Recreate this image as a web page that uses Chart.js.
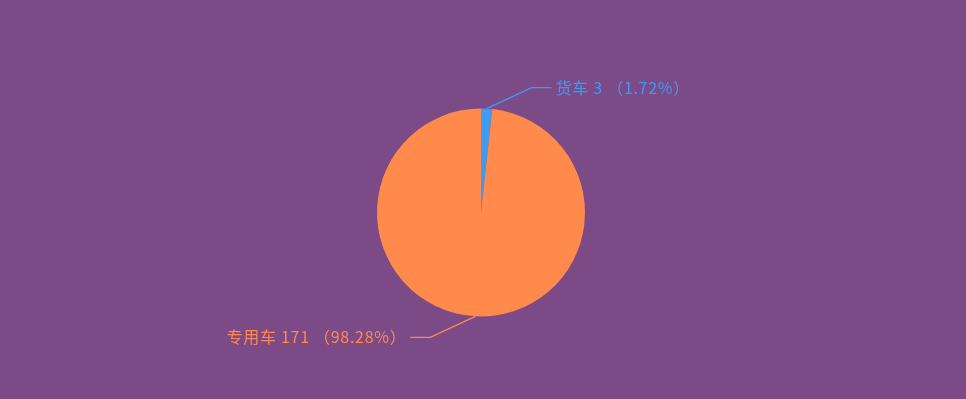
<!DOCTYPE html>
<html>
<head>
<meta charset="utf-8">
<script src="https://cdn.jsdelivr.net/npm/chart.js@4/dist/chart.umd.min.js"></script>
<style>
  html, body { margin: 0; padding: 0; background: #7b4a87; }
  #wrap { width: 966px; height: 399px; }
</style>
</head>
<body>
<div id="wrap"><canvas id="myChart" width="966" height="399"></canvas></div>
<script>
// chart data
const labels = ['货车', '专用车'];
const values = [3, 171];
const colors = ['#3d9bf2', '#ff8a4b'];

// draws the leader lines and labels next to each slice
const pieLabels = {
  id: 'pieLabels',
  afterDatasetsDraw(chart) {
    const ctx = chart.ctx;
    const meta = chart.getDatasetMeta(0);
    const total = values.reduce((a, b) => a + b, 0);
    meta.data.forEach((arc, i) => {
      const mid = (arc.startAngle + arc.endAngle) / 2;
      const r = arc.outerRadius;
      const sx = Math.cos(mid) >= 0 ? 1 : -1;
      const sy = Math.sin(mid) >= 0 ? 1 : -1;
      const x0 = arc.x + Math.cos(mid) * r;
      const y0 = arc.y + Math.sin(mid) * r;
      const x1 = x0 + sx * 45;
      const y1 = y0 + sy * 21;
      const x2 = x1 + sx * 20;

      ctx.save();
      ctx.strokeStyle = colors[i];
      ctx.lineWidth = 1.3;
      ctx.beginPath();
      ctx.moveTo(x0, y0);
      ctx.lineTo(x1, y1);
      ctx.lineTo(x2, y1);
      ctx.stroke();

      const pct = (values[i] / total * 100).toFixed(2);
      ctx.fillStyle = colors[i];
      ctx.font = '16px "Noto Sans CJK SC", "Noto Sans", sans-serif';
      ctx.letterSpacing = '0.7px';
      ctx.textBaseline = 'middle';
      ctx.textAlign = sx > 0 ? 'left' : 'right';
      ctx.fillText(labels[i] + ' ' + values[i] + ' （' + pct + '%）', x2 + sx * 4, y1);
      ctx.restore();
    });
  }
};

const ctx = document.getElementById('myChart').getContext('2d');
const myChart = new Chart(ctx, {
  type: 'pie',
  data: {
    labels: labels,
    datasets: [{
      data: values,
      backgroundColor: colors,
      borderWidth: 0
    }]
  },
  options: {
    responsive: false,
    animation: false,
    radius: 104,
    layout: { padding: { left: 0, right: 4, top: 26, bottom: 0 } },
    plugins: {
      legend: { display: false },
      tooltip: { enabled: false }
    }
  },
  plugins: [pieLabels]
});
</script>
</body>
</html>
